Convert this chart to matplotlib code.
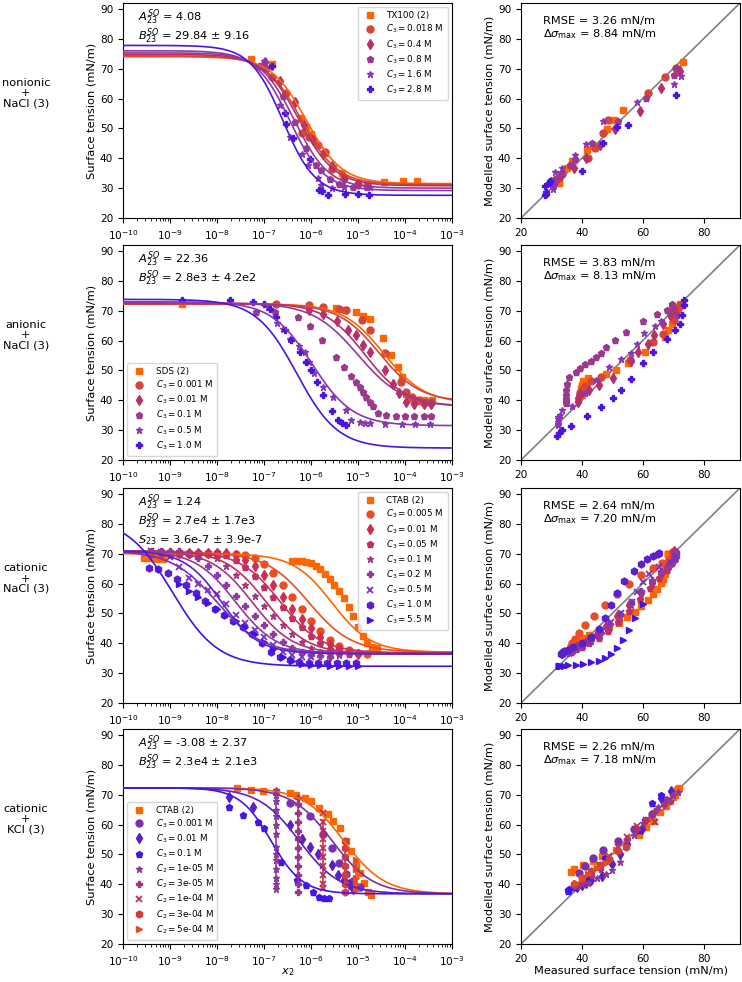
import numpy as np
import matplotlib
matplotlib.use('Agg')
import matplotlib.pyplot as plt

# ---------------- data (x stored as log10 of mole fraction x2) ----------------
# row 1: nonionic + NaCl
r1_labels = ['TX100 (2)', r'$C_3 = 0.018$ M', r'$C_3 = 0.4$ M', r'$C_3 = 0.8$ M',
             r'$C_3 = 1.6$ M', r'$C_3 = 2.8$ M']
r1_logx = [
    [-7.27, -6.84, -6.22, -6.1, -6.0, -5.71, -5.53, -5.35, -4.45, -4.05, -3.75],
    [-7.05, -6.82, -6.54, -6.2, -6.05, -5.85, -5.7, -5.55, -5.3, -5.0, -4.8],
    [-6.97, -6.66, -6.35, -6.15, -5.95, -5.75, -5.55, -5.3, -5.0],
    [-7.11, -6.95, -6.6, -6.35, -6.1, -5.89, -5.78, -5.6, -5.4, -5.1, -4.8],
    [-6.99, -6.87, -6.65, -6.45, -6.2, -6.06, -5.85, -5.78, -5.55, -5.3, -4.75],
    [-6.84, -6.56, -6.54, -6.38, -6.03, -5.83, -5.76, -5.64, -5.28, -5.0, -4.77],
]
r1_y = [
    [73.2, 71.7, 53.6, 50.5, 48.2, 41.8, 36.8, 35.0, 32.0, 32.5, 32.5],
    [71.0, 67.3, 61.7, 48.5, 47.0, 44.4, 42.0, 36.5, 33.5, 31.5, 31.0],
    [72.3, 65.9, 59.0, 51.0, 46.0, 41.5, 37.5, 33.0, 31.5],
    [71.0, 70.2, 61.0, 52.0, 43.5, 37.9, 36.2, 33.0, 31.5, 30.5, 30.5],
    [72.6, 70.4, 58.0, 47.0, 41.5, 37.9, 33.4, 31.2, 30.0, 30.5, 30.5],
    [71.0, 55.3, 51.6, 46.9, 39.9, 29.5, 29.2, 27.8, 28.1, 28.1, 27.8],
]
# fitted model curves: top plateau, bottom plateau, log10 midpoint, slope
r1_top = [74.0, 74.3, 74.8, 75.3, 76.0, 77.8]
r1_bot = [31.5, 31.2, 30.8, 30.0, 29.2, 27.6]
r1_mid = [-6.1, -6.2, -6.25, -6.35, -6.45, -6.6]
r1_n = [1.15, 1.15, 1.15, 1.2, 1.2, 1.25]

# row 2: anionic + NaCl
r2_labels = ['SDS (2)', r'$C_3 = 0.001$ M', r'$C_3 = 0.01$ M', r'$C_3 = 0.1$ M',
             r'$C_3 = 0.5$ M', r'$C_3 = 1.0$ M']
r2_logx = [
    [-8.74, -5.46, -5.28, -5.05, -4.89, -4.75, -4.47, -4.29, -4.15, -4.06, -3.98,
     -3.9, -3.8, -3.7, -3.6, -3.5, -3.42],
    [-6.74, -6.04, -5.74, -5.41, -5.25, -4.91, -4.75, -4.43, -4.08, -3.97, -3.85,
     -3.7, -3.55, -3.45],
    [-6.04, -5.74, -5.44, -5.21, -5.04, -4.89, -4.75, -4.43, -4.26, -4.13, -3.97,
     -3.8, -3.6, -3.45],
    [-7.16, -6.77, -6.28, -6.03, -5.76, -5.46, -5.29, -5.14, -5.04, -4.96, -4.89,
     -4.82, -4.75, -4.68, -4.57, -4.4, -4.2, -4.0, -3.8, -3.6, -3.45],
    [-6.91, -6.72, -6.6, -6.45, -6.26, -6.13, -6.04, -5.94, -5.74, -5.53, -5.25,
     -5.14, -4.96, -4.86, -4.75, -4.43, -4.06, -3.78, -3.46],
    [-8.74, -7.73, -7.23, -7.0, -6.88, -6.74, -6.56, -6.42, -6.24, -6.11, -6.01,
     -5.88, -5.74, -5.55, -5.43, -5.35, -5.25],
]
r2_y = [
    [72.4, 70.8, 70.3, 69.5, 68.3, 67.2, 60.7, 55.1, 51.3, 47.9, 42.0, 40.5, 40.0,
     39.8, 40.0, 39.5, 40.0],
    [72.4, 71.8, 71.3, 70.7, 70.2, 66.8, 63.5, 55.7, 46.2, 42.9, 41.0, 40.0, 39.5, 39.5],
    [70.2, 69.0, 66.6, 63.7, 61.8, 58.5, 56.2, 50.1, 45.6, 42.3, 39.5, 38.8, 38.8, 38.8],
    [69.6, 69.6, 67.9, 64.8, 60.1, 54.6, 51.0, 48.1, 46.2, 44.5, 42.9, 41.2, 39.5,
     38.2, 35.8, 35.0, 34.8, 34.7, 34.7, 34.7, 34.7],
    [71.3, 65.9, 64.0, 60.6, 58.1, 56.2, 52.9, 49.0, 44.5, 41.2, 36.7, 33.4, 32.8,
     32.3, 32.3, 32.0, 32.0, 32.0, 32.0],
    [73.5, 73.5, 73.0, 72.4, 70.5, 67.9, 63.5, 60.1, 56.2, 52.9, 50.1, 46.2, 41.7,
     36.5, 33.4, 32.5, 31.7],
]
r2_top = [72.3, 72.2, 72.5, 72.6, 73.0, 73.8]
r2_bot = [39.0, 39.5, 38.0, 37.8, 31.5, 24.0]
r2_mid = [-4.45, -4.55, -4.85, -5.0, -5.98, -6.3]
r2_n = [1.0, 1.0, 1.0, 0.9, 1.0, 1.0]

# row 3: cationic + NaCl
r3_labels = ['CTAB (2)', r'$C_3 = 0.005$ M', r'$C_3 = 0.01$ M', r'$C_3 = 0.05$ M',
             r'$C_3 = 0.1$ M', r'$C_3 = 0.2$ M', r'$C_3 = 0.5$ M', r'$C_3 = 1.0$ M',
             r'$C_3 = 5.5$ M']
r3_logx = [
    [-9.55, -9.45, -9.35, -9.25, -9.15, -6.4, -6.3, -6.2, -6.1, -6.0, -5.9, -5.8,
     -5.7, -5.6, -5.5, -5.4, -5.3, -5.2, -5.1, -5.0, -4.9, -4.8, -4.7, -4.6],
    [-9.4, -9.2, -9.0, -8.8, -8.6, -8.4, -8.2, -8.0, -7.8, -7.6, -7.4, -7.2, -7.0,
     -6.8, -6.6, -6.4, -6.2, -6.0, -5.8, -5.6, -5.4, -5.2, -5.0, -4.8],
    [-9.4, -9.2, -9.0, -8.8, -8.6, -8.4, -8.2, -8.0, -7.8, -7.6, -7.4, -7.2, -7.0,
     -6.8, -6.6, -6.4, -6.2, -6.0, -5.8, -5.6, -5.4, -5.2, -5.0],
    [-9.4, -9.2, -9.0, -8.8, -8.6, -8.4, -8.2, -8.0, -7.8, -7.6, -7.4, -7.2, -7.0,
     -6.8, -6.6, -6.4, -6.2, -6.0, -5.8, -5.6, -5.4, -5.2],
    [-9.4, -9.2, -9.0, -8.8, -8.6, -8.4, -8.2, -8.0, -7.8, -7.6, -7.4, -7.2, -7.0,
     -6.8, -6.6, -6.4, -6.2, -6.0, -5.8, -5.6, -5.4],
    [-9.4, -9.2, -9.0, -8.8, -8.6, -8.4, -8.2, -8.0, -7.8, -7.6, -7.4, -7.2, -7.0,
     -6.8, -6.6, -6.4, -6.2, -6.0, -5.8, -5.6],
    [-9.4, -9.2, -9.0, -8.8, -8.6, -8.4, -8.2, -8.0, -7.8, -7.6, -7.4, -7.2, -7.0,
     -6.8, -6.6, -6.4, -6.2, -6.0],
    [-9.45, -9.25, -9.05, -8.85, -8.65, -8.45, -8.25, -8.05, -7.85, -7.65, -7.45,
     -7.25, -7.05, -6.85, -6.65, -6.45, -6.25, -6.05, -5.85, -5.65, -5.45, -5.25, -5.05],
    [-8.8, -8.6, -8.4, -8.2, -8.0, -7.8, -7.6, -7.4, -7.2, -7.0, -6.8, -6.6, -6.4,
     -6.2, -6.0, -5.8, -5.6, -5.4, -5.2, -5.0],
]
r3_y = [
    [68.5, 68.4, 68.4, 68.3, 68.3, 67.7, 67.6, 67.5, 67.2, 66.8, 66.0, 64.8, 63.3,
     61.6, 59.5, 57.5, 55.0, 52.3, 49.0, 45.5, 42.3, 40.0, 38.8, 38.3],
    [70.0, 70.0, 70.0, 70.0, 70.0, 70.0, 70.0, 70.0, 70.0, 70.0, 69.5, 68.5, 66.5,
     63.5, 59.5, 55.5, 51.5, 47.5, 44.0, 41.0, 39.0, 37.6, 36.8, 36.5],
    [70.3, 70.3, 70.3, 70.3, 70.3, 70.3, 70.3, 70.3, 70.3, 69.5, 68.0, 66.0, 63.0,
     59.5, 55.5, 51.5, 48.0, 45.0, 42.0, 39.8, 38.0, 37.0, 36.5],
    [70.5, 70.5, 70.5, 70.5, 70.5, 70.5, 70.5, 70.5, 69.7, 68.0, 65.5, 62.5, 59.0,
     55.5, 52.0, 48.5, 45.5, 42.5, 40.0, 38.0, 36.8, 36.3],
    [70.7, 70.7, 70.7, 70.7, 70.7, 70.7, 70.0, 68.5, 66.0, 63.0, 59.5, 56.0, 52.5,
     49.0, 46.0, 43.0, 40.5, 38.5, 37.0, 36.2, 36.0],
    [70.8, 70.8, 70.8, 70.8, 70.0, 68.5, 66.0, 63.0, 59.5, 56.0, 52.5, 49.0, 46.0,
     43.0, 40.5, 38.5, 37.0, 36.2, 35.8, 35.5],
    [70.8, 70.5, 69.0, 65.5, 62.0, 60.0, 58.0, 56.5, 53.0, 49.5, 46.7, 44.5, 42.0,
     39.5, 37.0, 36.0, 35.5, 35.3],
    [65.3, 65.0, 63.5, 61.5, 59.5, 57.0, 54.0, 51.5, 49.5, 47.5, 45.5, 43.0, 40.0,
     37.0, 35.3, 34.3, 33.8, 33.5, 33.5, 33.5, 33.5, 33.4, 33.3],
    [60.0, 57.5, 55.5, 53.5, 51.5, 49.5, 47.5, 45.5, 43.0, 40.5, 38.0, 35.5, 34.0,
     33.2, 32.8, 32.6, 32.5, 32.5, 32.5, 32.5],
]
r3_top = [70.0, 70.5, 70.8, 71.0, 71.0, 71.0, 71.0, 71.0, 82.0]
r3_bot = [37.0, 37.0, 36.8, 36.5, 36.5, 36.5, 36.5, 36.5, 32.3]
r3_mid = [-5.55, -6.05, -6.65, -6.95, -7.25, -7.6, -8.0, -7.9, -8.95]
r3_n = [1.05, 0.95, 1.0, 1.0, 1.0, 1.0, 0.9, 1.1, 0.9]

# row 4: cationic + KCl (first four: varying x2, last five: fixed C2)
r4_labels = ['CTAB (2)', r'$C_3 = 0.001$ M', r'$C_3 = 0.01$ M', r'$C_3 = 0.1$ M',
             r'$C_2 = $1e-05 M', r'$C_2 = $3e-05 M', r'$C_2 = $1e-04 M',
             r'$C_2 = $3e-04 M', r'$C_2 = $5e-04 M']
r4_logx = [
    [-7.57, -7.27, -7.02, -6.74, -6.45, -6.31, -6.13, -5.99, -5.82, -5.64, -5.53,
     -5.39, -5.25, -5.14, -5.04, -4.96, -4.88, -4.79, -4.72],
    [-6.45, -6.03, -5.75, -5.55, -5.4, -5.25, -5.1, -4.95],
    [-7.74, -7.23, -6.45, -6.2, -6.03, -5.85, -5.55, -5.42, -5.3, -5.2, -5.1],
    [-7.74, -7.45, -7.13, -6.99, -6.63, -6.3, -6.1, -5.96, -5.82, -5.72, -5.62],
]
r4_y = [
    [72.1, 71.5, 71.2, 70.9, 70.6, 70.0, 68.9, 67.8, 65.6, 63.4, 61.1, 58.9, 54.4,
     51.1, 46.6, 43.8, 40.5, 37.3, 36.5],
    [67.2, 63.0, 57.0, 52.0, 47.0, 43.6, 41.0, 39.0],
    [69.3, 65.9, 59.7, 55.0, 52.4, 50.0, 46.5, 43.0, 41.5, 40.0, 38.5],
    [66.0, 63.2, 60.7, 58.7, 47.6, 41.5, 39.6, 37.4, 35.8, 35.5, 35.5],
]
r4_top = [72.3, 72.3, 72.3, 72.3]
r4_bot = [36.8, 36.8, 36.8, 36.8]
r4_mid = [-5.3, -5.55, -6.25, -6.85]
r4_n = [1.0, 1.0, 1.0, 1.3]
# fixed-C2 series: x2 value, measured and modelled surface tension
r4_c2_x = [1.8e-7, 5.4e-7, 1.8e-6, 5.4e-6, 9.0e-6]
r4_c2_y = [
    [71.5, 70.0, 68.0, 65.0, 63.0, 60.0, 57.0, 52.5, 50.0, 48.0, 45.0, 42.0, 40.0, 38.5],
    [69.0, 67.0, 64.0, 61.0, 58.0, 55.0, 52.0, 49.0, 46.0, 43.0, 40.0, 37.3],
    [64.0, 61.0, 58.0, 55.0, 52.0, 49.0, 46.0, 43.0, 40.0, 38.7],
    [54.4, 52.0, 49.0, 46.0, 43.0, 40.0, 37.3],
    [48.0, 45.0, 42.0, 40.0, 38.0],
]
r4_c2_model = [
    [71.0, 70.0, 68.5, 66.0, 64.0, 60.5, 56.5, 47.5, 44.8, 43.5, 42.0, 40.5, 40.0, 39.5],
    [68.0, 66.5, 64.5, 61.5, 58.5, 55.0, 51.5, 48.0, 45.0, 43.0, 41.0, 39.5],
    [61.0, 61.5, 59.5, 56.0, 52.5, 49.5, 46.5, 44.0, 41.5, 40.0],
    [52.5, 51.0, 48.5, 46.5, 44.5, 42.0, 40.0],
    [47.0, 45.5, 43.5, 42.0, 40.5],
]

row_names = ['nonionic\n+\nNaCl (3)', 'anionic\n+\nNaCl (3)',
             'cationic\n+\nNaCl (3)', 'cationic\n+\nKCl (3)']
param_text = [
    [r'$A_{23}^{SO}$ = 4.08', r'$B_{23}^{SO}$ = 29.84 ± 9.16'],
    [r'$A_{23}^{SO}$ = 22.36', r'$B_{23}^{SO}$ = 2.8e3 ± 4.2e2'],
    [r'$A_{23}^{SO}$ = 1.24', r'$B_{23}^{SO}$ = 2.7e4 ± 1.7e3',
     r'$S_{23}$ = 3.6e-7 ± 3.9e-7'],
    [r'$A_{23}^{SO}$ = -3.08 ± 2.37', r'$B_{23}^{SO}$ = 2.3e4 ± 2.1e3'],
]
rmse = ['3.26', '3.83', '2.64', '2.26']
dmax = ['8.84', '8.13', '7.20', '7.18']

# ---------------- styles ----------------
markers9 = ['s', 'o', 'd', 'p', '*', 'P', 'x', 'h', '>']
colors6 = ['#ff6600', '#d6443a', '#b8306a', '#993a8c', '#8a35b5', '#4b14e0']
colors9 = ['#ff6600', '#ee4c22', '#cc3050', '#bf3062', '#a83580', '#8f3a9f',
           '#7a30c0', '#5a20d0', '#4410ee']
colors_r4 = ['#ff6600', '#7a30b0', '#5a20c8', '#4414e8', '#8a3a9a', '#a03585',
             '#c03050', '#cc4040', '#e64a1e']

W, H = 742, 982
fs = 8.2
tfs = 7.6
plt.rcParams['font.size'] = fs
fig = plt.figure(figsize=(W / 100, H / 100), dpi=100)
row_tops = [3, 245, 488, 729]
ax_h = 215


def rect(left, top, w, h):
    return [left / W, 1 - (top + h) / H, w / W, h / H]


def model(logx, top, bot, mid, n):
    return bot + (top - bot) / (1 + 10 ** (n * (np.asarray(logx) - mid)))


xx = np.linspace(-10, -3, 400)


def setup_left(ax, last):
    ax.set_xscale('log')
    ax.set_xlim(1e-10, 1e-3)
    ax.set_ylim(20, 92)
    ax.set_xticks([10.0 ** k for k in range(-10, -2)])
    ax.set_yticks(range(20, 91, 10))
    ax.set_ylabel('Surface tension (mN/m)', fontsize=fs, labelpad=2)
    ax.tick_params(labelsize=tfs)
    if last:
        ax.set_xlabel('$x_2$', fontsize=fs, labelpad=-1)


def setup_right(ax, last):
    ax.set_xlim(20, 92)
    ax.set_ylim(20, 92)
    ax.set_xticks([20, 40, 60, 80])
    ax.set_yticks(range(20, 91, 10))
    ax.plot([20, 92], [20, 92], color='grey', lw=1.2, zorder=1)
    ax.set_ylabel('Modelled surface tension (mN/m)', fontsize=fs, labelpad=2)
    ax.tick_params(labelsize=tfs)
    if last:
        ax.set_xlabel('Measured surface tension (mN/m)', fontsize=fs, labelpad=1)


ms = 5
rows = [
    (r1_labels, r1_logx, r1_y, r1_top, r1_bot, r1_mid, r1_n, colors6, markers9[:6]),
    (r2_labels, r2_logx, r2_y, r2_top, r2_bot, r2_mid, r2_n, colors6, markers9[:6]),
    (r3_labels, r3_logx, r3_y, r3_top, r3_bot, r3_mid, r3_n, colors9, markers9),
    (r4_labels[:4], r4_logx, r4_y, r4_top, r4_bot, r4_mid, r4_n, colors_r4[:4],
     markers9[:4]),
]
legend_loc = ['upper right', 'lower left', 'upper right', 'lower left']

for i, (labels, lx, ys, tops, bots, mids, ns, cols, mks) in enumerate(rows):
    axl = fig.add_axes(rect(123, row_tops[i], 329, ax_h))
    axr = fig.add_axes(rect(521, row_tops[i], 219, ax_h))
    last = i == 3
    setup_left(axl, last)
    setup_right(axr, last)

    for j in range(len(labels)):
        c, m = cols[j], mks[j]
        mew = 1.3 if m == 'x' else 1
        x = 10 ** np.array(lx[j])
        axl.plot(x, ys[j], ls='none', marker=m, ms=ms, color=c, mew=mew,
                 label=labels[j], zorder=2)
        axl.plot(10 ** xx, model(xx, tops[j], bots[j], mids[j], ns[j]),
                 color=c, lw=1.2, zorder=3)
        axr.plot(ys[j], model(lx[j], tops[j], bots[j], mids[j], ns[j]), ls='none',
                 marker=m, ms=ms, color=c, mew=mew, zorder=2)

    if last:
        for k in range(len(r4_c2_x)):
            c, m = colors_r4[4 + k], markers9[4 + k]
            mew = 1.3 if m == 'x' else 1
            xc = [r4_c2_x[k]] * len(r4_c2_y[k])
            axl.plot(xc, r4_c2_y[k], ls='none', marker=m, ms=ms, color=c, mew=mew,
                     label=r4_labels[4 + k], zorder=2)
            axl.plot([r4_c2_x[k]] * 2, [min(r4_c2_model[k]), max(r4_c2_model[k])],
                     color=c, lw=1.2, zorder=3)
            axr.plot(r4_c2_y[k], r4_c2_model[k], ls='none', marker=m, ms=ms,
                     color=c, mew=mew, zorder=2)

    axl.legend(loc=legend_loc[i], fontsize=6.3, labelspacing=0.3,
               handletextpad=1.0, borderpad=0.45, handlelength=1.8)

    for k, t in enumerate(param_text[i]):
        axl.text(0.045, 0.935 - k * 0.088, t, transform=axl.transAxes,
                 va='center', ha='left', fontsize=fs)
    axr.text(0.1, 0.915, f'RMSE = {rmse[i]} mN/m', transform=axr.transAxes,
             va='center', ha='left', fontsize=fs)
    axr.text(0.1, 0.855, r'$\Delta\sigma_{\max}$ = ' + f'{dmax[i]} mN/m',
             transform=axr.transAxes, va='center', ha='left', fontsize=fs)

    yc = row_tops[i] + ax_h / 2 - 17
    fig.text(26 / W, 1 - yc / H, row_names[i], ha='center', va='center',
             fontsize=fs, linespacing=1.05)

fig.savefig('out.png', dpi=100)
